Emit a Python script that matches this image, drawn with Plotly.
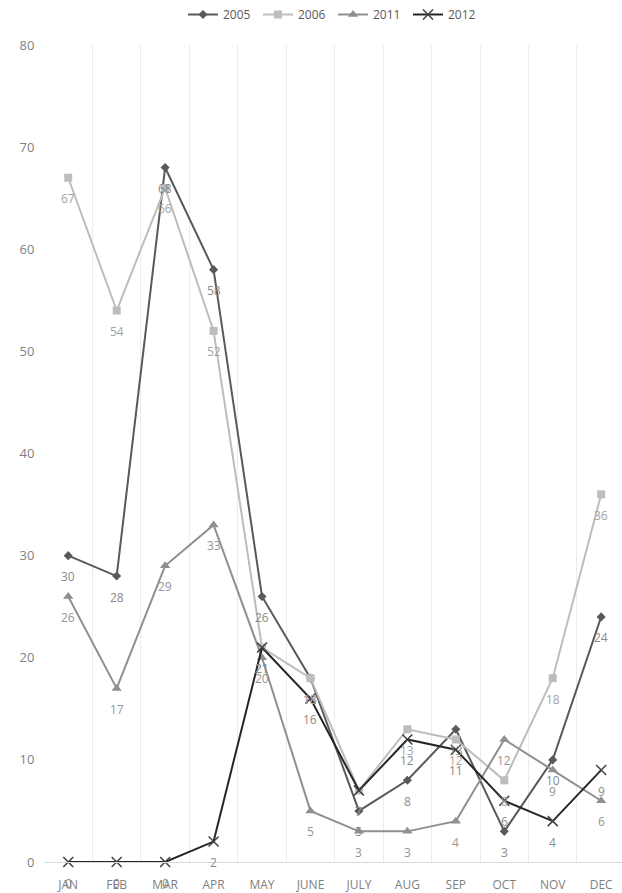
import plotly.graph_objects as go

# Monthly counts per year
months = ["JAN", "FEB", "MAR", "APR", "MAY", "JUNE", "JULY", "AUG", "SEP", "OCT", "NOV", "DEC"]
y2005 = [30, 28, 68, 58, 26, 18, 5, 8, 13, 3, 10, 24]
y2006 = [67, 54, 66, 52, 21, 18, 7, 13, 12, 8, 18, 36]
y2011 = [26, 17, 29, 33, 20, 5, 3, 3, 4, 12, 9, 6]
y2012 = [0, 0, 0, 2, 21, 16, 7, 12, 11, 6, 4, 9]

series = [
    ("2005", y2005, "#595959", dict(symbol="diamond", size=7), "#8a8a8a"),
    ("2006", y2006, "#bdbdbd", dict(symbol="square", size=8), "#a3a3a3"),
    ("2011", y2011, "#8f8f8f", dict(symbol="triangle-up", size=9), "#959595"),
    ("2012", y2012, "#262626", dict(symbol="x-thin", size=10, line=dict(width=1.5, color="#404040")), "#8a8a8a"),
]

fig = go.Figure()
annotations = []
for name, vals, color, marker, label_color in series:
    fig.add_trace(go.Scatter(
        x=months, y=vals, name=name, mode="lines+markers",
        line=dict(color=color, width=2),
        marker=dict(color=color, **marker),
        cliponaxis=False,
    ))
    # value labels sit below each point
    for m, v in zip(months, vals):
        annotations.append(dict(
            x=m, y=v, text=str(v), showarrow=False, yshift=-21,
            font=dict(size=12, color=label_color, family="Open Sans"),
        ))

fig.update_layout(
    width=622, height=893,
    margin=dict(l=44, r=0, t=45, b=31),
    paper_bgcolor="white", plot_bgcolor="white",
    font=dict(family="Open Sans", size=12, color="#7f7f7f"),
    showlegend=True,
    legend=dict(orientation="h", x=0.5, xanchor="center", yref="container", y=1.0, yanchor="top",
                font=dict(size=12, color="#595959"), entrywidth=30, entrywidthmode="pixels",
                tracegroupgap=0),
    annotations=annotations,
)
fig.update_xaxes(
    type="category", range=[-0.5, 11.43], tickson="boundaries",
    showgrid=True, gridcolor="#ececec", gridwidth=1,
    showline=True, linecolor="#d9d9d9", linewidth=1,
    ticks="", ticklabelstandoff=12,
    tickfont=dict(size=12, color="#7f7f7f"), automargin=False,
)
fig.update_yaxes(
    range=[0, 80], dtick=10, showgrid=False, zeroline=False, showline=False,
    ticks="outside", ticklen=6, tickcolor="rgba(0,0,0,0)",
    tickfont=dict(size=13, color="#7f7f7f"), automargin=False,
)

fig.write_html("out.html")
